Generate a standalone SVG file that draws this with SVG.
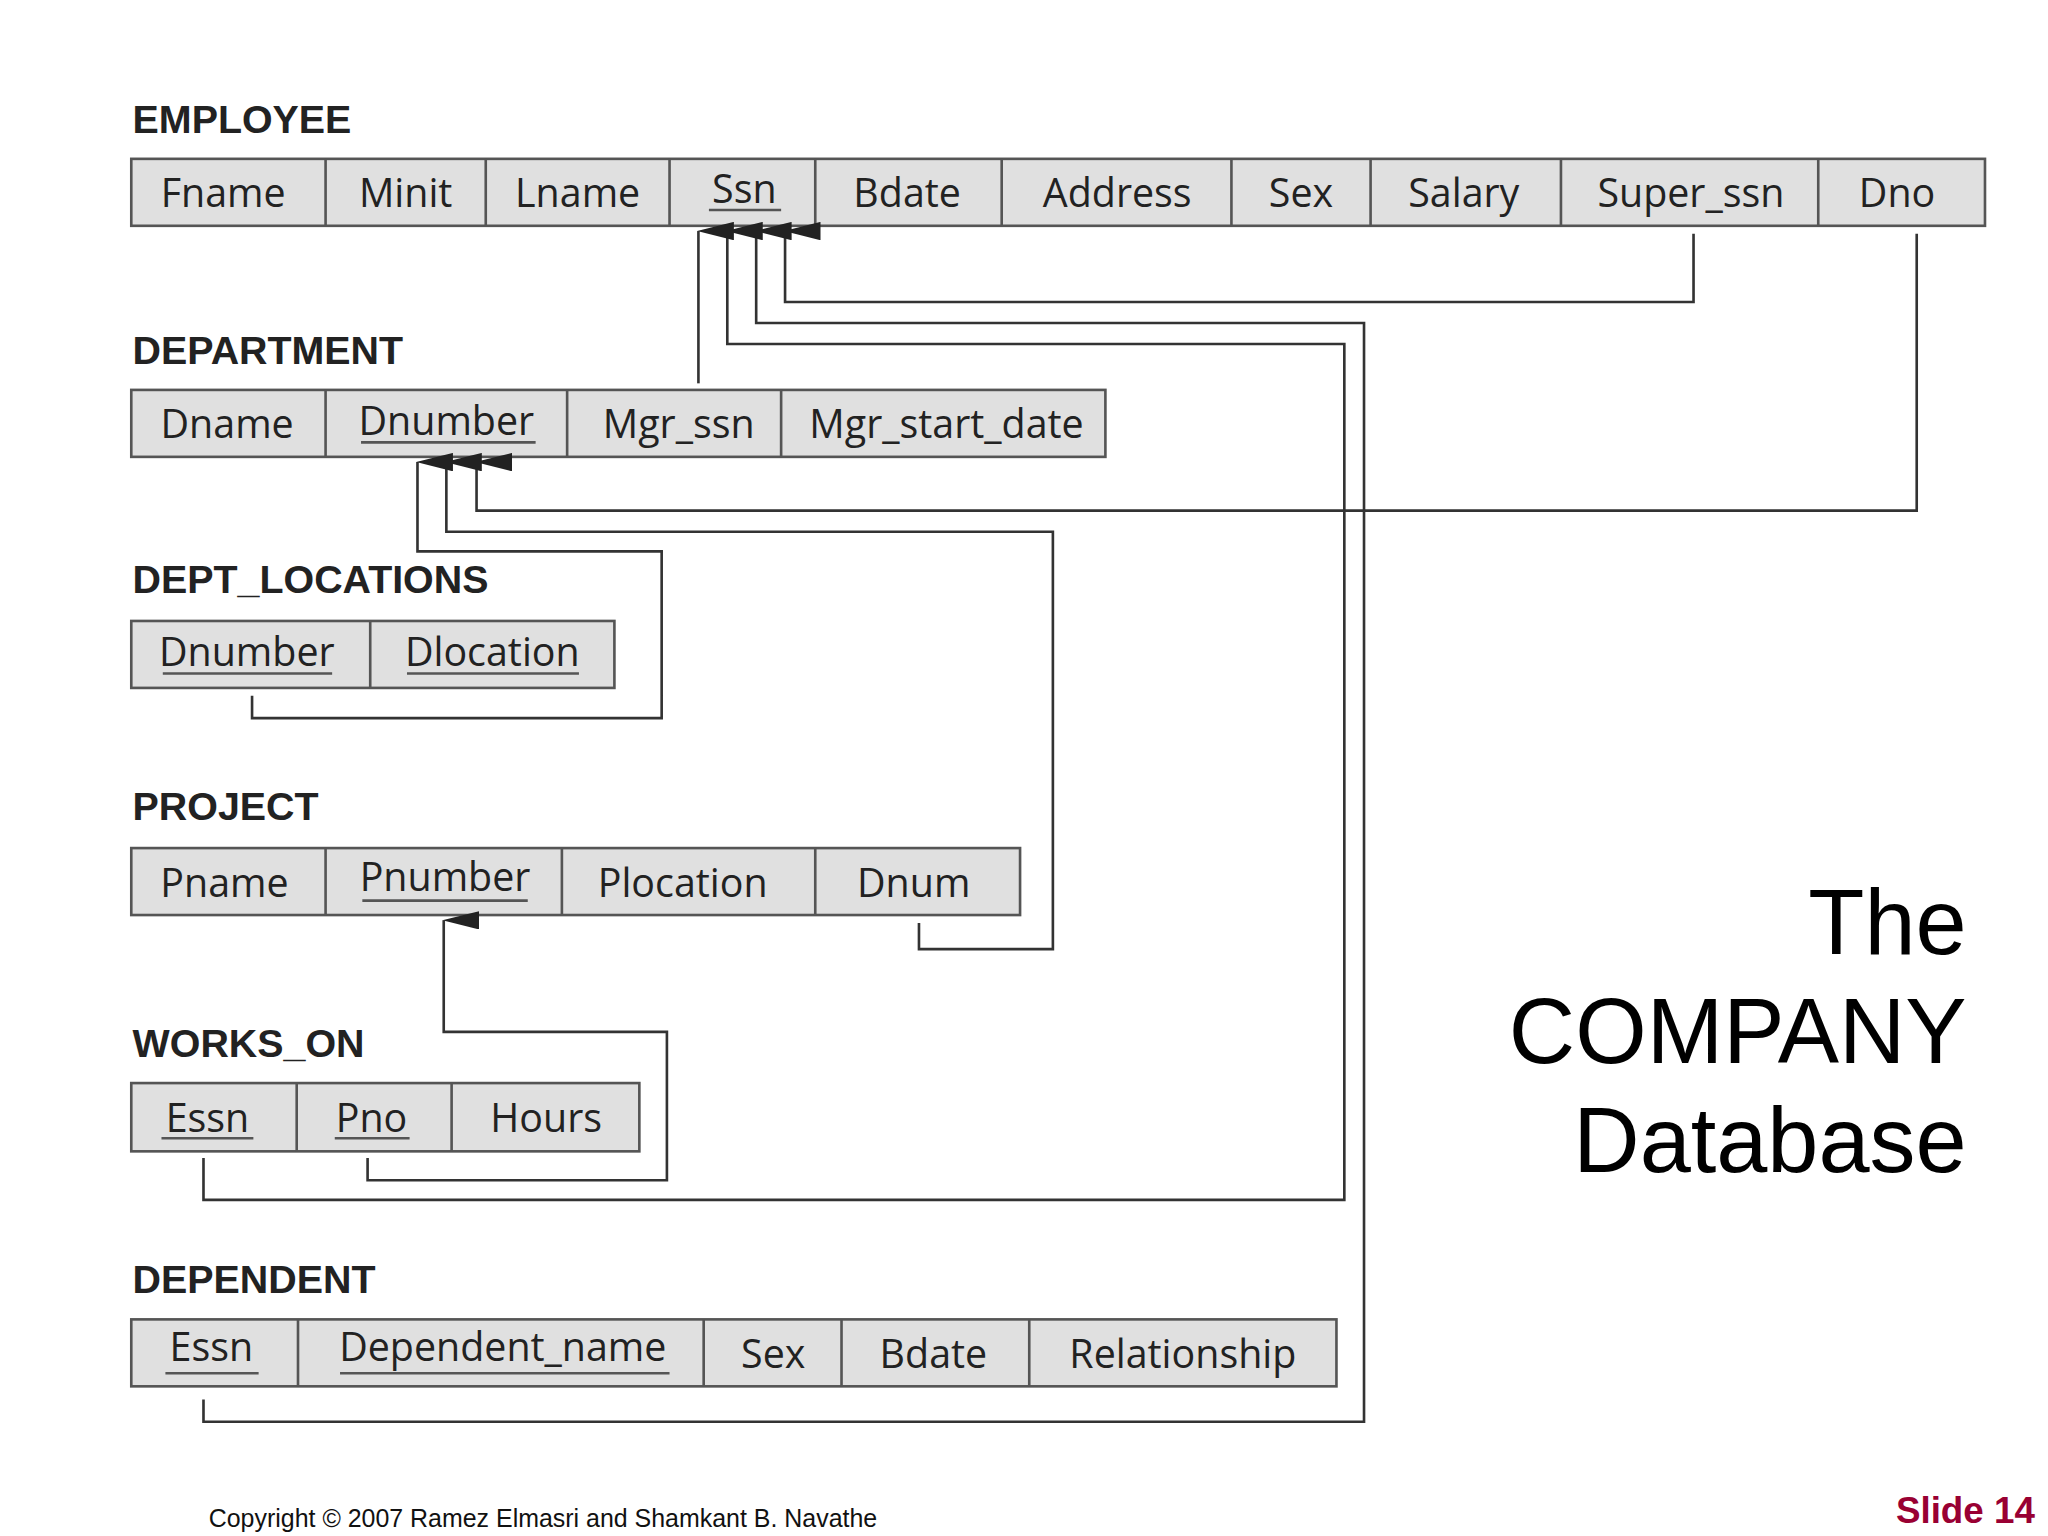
<svg xmlns="http://www.w3.org/2000/svg" width="2048" height="1536" viewBox="0 0 2048 1536">
<style>
.t{font-family:"Liberation Sans",Arial,sans-serif;font-weight:bold;font-size:30px;fill:#222}
.c rect{fill:#e0e0e0;stroke:#555;stroke-width:2}
.c line{stroke:#555;stroke-width:2}
.a{font-family:"Open Sans","Liberation Sans",sans-serif;font-size:30px;fill:#222;text-anchor:middle}
.u{stroke:#222;stroke-width:2}
#conn path{fill:none;stroke:#333;stroke-width:2}
</style>
<defs><marker id="ar" markerWidth="14" markerHeight="28" refX="7" refY="1" orient="auto-start-reverse" markerUnits="userSpaceOnUse" viewBox="0 0 14 28"><path d="M7,0 L14,28 L0,28 Z" fill="#222"/></marker></defs>
<rect width="2048" height="1536" fill="#fff"/>
<g transform="scale(1.31282)">
<g id="employee" class="c">
<text class="t" x="101" y="101">EMPLOYEE</text>
<rect x="100" y="121" width="1412" height="51"/>
<line x1="248" y1="121" x2="248" y2="172"/><line x1="370" y1="121" x2="370" y2="172"/><line x1="510" y1="121" x2="510" y2="172"/><line x1="621" y1="121" x2="621" y2="172"/><line x1="763" y1="121" x2="763" y2="172"/><line x1="938" y1="121" x2="938" y2="172"/><line x1="1044" y1="121" x2="1044" y2="172"/><line x1="1189" y1="121" x2="1189" y2="172"/><line x1="1385" y1="121" x2="1385" y2="172"/>
<text class="a" x="170" y="158">Fname</text><text class="a" x="309" y="158">Minit</text><text class="a" x="440" y="158">Lname</text><text class="a" x="567" y="155">Ssn</text><line class="u" x1="540" y1="160" x2="595" y2="160"/><text class="a" x="691" y="158">Bdate</text><text class="a" x="851" y="158">Address</text><text class="a" x="991" y="158">Sex</text><text class="a" x="1115" y="158">Salary</text><text class="a" x="1288" y="158">Super_ssn</text><text class="a" x="1445" y="158">Dno</text>
</g>
<g id="department" class="c">
<text class="t" x="101" y="277">DEPARTMENT</text>
<rect x="100" y="297" width="742" height="51"/>
<line x1="248" y1="297" x2="248" y2="348"/><line x1="432" y1="297" x2="432" y2="348"/><line x1="595" y1="297" x2="595" y2="348"/>
<text class="a" x="173" y="334">Dname</text><text class="a" x="340" y="331">Dnumber</text><line class="u" x1="275" y1="337" x2="408" y2="337"/><text class="a" x="517" y="334">Mgr_ssn</text><text class="a" x="721" y="334">Mgr_start_date</text>
</g>
<g id="dept_locations" class="c">
<text class="t" x="101" y="452">DEPT_LOCATIONS</text>
<rect x="100" y="473" width="368" height="51"/>
<line x1="282" y1="473" x2="282" y2="524"/>
<text class="a" x="188" y="507">Dnumber</text><line class="u" x1="124" y1="513" x2="253" y2="513"/><text class="a" x="375" y="507">Dlocation</text><line class="u" x1="310" y1="513" x2="441" y2="513"/>
</g>
<g id="project" class="c">
<text class="t" x="101" y="625">PROJECT</text>
<rect x="100" y="646" width="677" height="51"/>
<line x1="248" y1="646" x2="248" y2="697"/><line x1="428" y1="646" x2="428" y2="697"/><line x1="621" y1="646" x2="621" y2="697"/>
<text class="a" x="171" y="683">Pname</text><text class="a" x="339" y="679">Pnumber</text><line class="u" x1="276" y1="686" x2="402" y2="686"/><text class="a" x="520" y="683">Plocation</text><text class="a" x="696" y="683">Dnum</text>
</g>
<g id="works_on" class="c">
<text class="t" x="101" y="805">WORKS_ON</text>
<rect x="100" y="825" width="387" height="52"/>
<line x1="226" y1="825" x2="226" y2="877"/><line x1="344" y1="825" x2="344" y2="877"/>
<text class="a" x="158" y="862">Essn</text><line class="u" x1="123" y1="867" x2="193" y2="867"/><text class="a" x="283" y="862">Pno</text><line class="u" x1="255" y1="867" x2="312" y2="867"/><text class="a" x="416" y="862">Hours</text>
</g>
<g id="dependent" class="c">
<text class="t" x="101" y="985">DEPENDENT</text>
<rect x="100" y="1005" width="918" height="51"/>
<line x1="227" y1="1005" x2="227" y2="1056"/><line x1="536" y1="1005" x2="536" y2="1056"/><line x1="641" y1="1005" x2="641" y2="1056"/><line x1="784" y1="1005" x2="784" y2="1056"/>
<text class="a" x="161" y="1037">Essn</text><line class="u" x1="126" y1="1046" x2="197" y2="1046"/><text class="a" x="383" y="1037">Dependent_name</text><line class="u" x1="259" y1="1046" x2="510" y2="1046"/><text class="a" x="589" y="1042">Sex</text><text class="a" x="711" y="1042">Bdate</text><text class="a" x="901" y="1042">Relationship</text>
</g>
<g id="conn">
<path d="M1290,178 V230 H598 V176" marker-end="url(#ar)"/>
<path d="M155,1066 V1083 H1039 V246 H576 V176" marker-end="url(#ar)"/>
<path d="M155,882 V914 H1024 V262 H554 V176" marker-end="url(#ar)"/>
<path d="M532,292 V176" marker-end="url(#ar)"/>
<path d="M1460,178 V389 H363 V352" marker-end="url(#ar)"/>
<path d="M700,703 V723 H802 V405 H340 V352" marker-end="url(#ar)"/>
<path d="M192,530 V547 H504 V420 H318 V352" marker-end="url(#ar)"/>
<path d="M280,882 V899 H508 V786 H338 V701" marker-end="url(#ar)"/>
</g>
<g id="title" font-family="Liberation Sans,Arial,sans-serif" font-size="70" text-anchor="end" fill="#000">
<text x="1498" y="727">The</text><text x="1498" y="810">COMPANY</text><text x="1498" y="893">Database</text>
</g>
<text x="159" y="1163" font-family="Liberation Sans,Arial,sans-serif" font-size="19" fill="#111">Copyright © 2007 Ramez Elmasri and Shamkant B. Navathe</text>
<text x="1550" y="1160" text-anchor="end" font-family="Liberation Sans,Arial,sans-serif" font-weight="bold" font-size="28" fill="#990033">Slide 14</text>
</g>
</svg>
